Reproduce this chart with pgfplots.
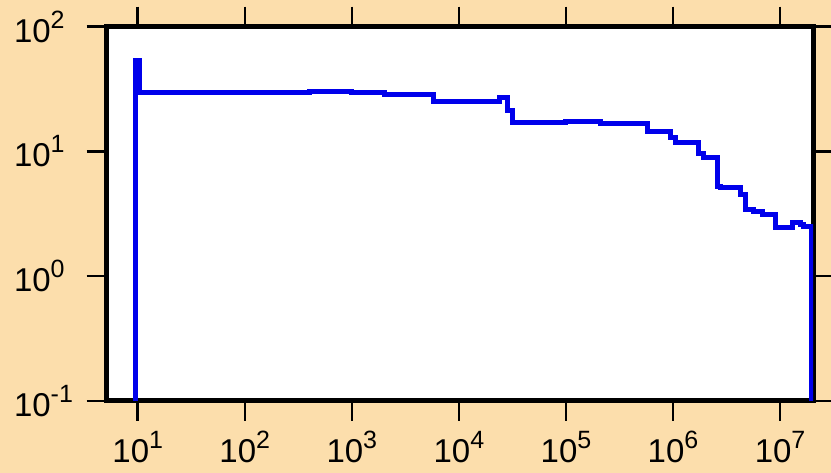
\documentclass[border=0pt]{standalone}
\usepackage{pgfplots}
\pgfplotsset{compat=1.18}
\usepackage{fontspec}
\setmainfont{Liberation Sans}
\definecolor{bg}{RGB}{252,222,172}
\definecolor{pl}{RGB}{0,0,235}
\newcommand{\tl}[1]{10\raisebox{14pt}{\fontsize{25}{26}\selectfont #1}}
\begin{document}
\begin{tikzpicture}[x=1pt,y=1pt]
\fill[bg] (0,0) rectangle (831,473);
\useasboundingbox (0,0) rectangle (831,473);
\begin{axis}[
  at={(106.5pt,72pt)}, anchor=south west,
  scale only axis, width=706.5pt, height=374.5pt,
  xmode=log, ymode=log,
  xmin=5.11, xmax=2.03e7, ymin=0.1, ymax=100,
  axis background/.style={fill=white},
  axis line style={line width=5pt, line cap=rect},
  tick align=outside, tick pos=both,
  major tick length=20pt,
  tick style={line width=2.5pt, black},
  xminorticks=false, yminorticks=false,
  xtick={10,100,1000,10000,100000,1000000,10000000},
  xticklabels={\tl{1},\tl{2},\tl{3},\tl{4},\tl{5},\tl{6},\tl{7}},
  ytick={0.1,1,10,100},
  yticklabels={\tl{-1},\tl{0},\tl{1},\tl{2}},
  ticklabel style={font=\fontsize{33}{38}\selectfont},
  xticklabel style={yshift=-7pt},
  yticklabel style={anchor=west, xshift=-76pt},
]
\addplot[const plot, color=pl, line width=5pt] coordinates {
(9.5,0.1)
(9.5,53.4)
(10.5,29.7)
(60,29.4)
(130,29.8)
(400,30.0)
(1000,29.8)
(2040,28.3)
(5740,25.0)
(15000,25.3)
(24200,26.8)
(28200,21.2)
(31400,17.1)
(100000,17.4)
(208000,16.6)
(573000,14.4)
(940000,12.9)
(1.05e6,11.7)
(1.72e6,9.53)
(1.91e6,8.85)
(2.58e6,5.2)
(2.75e6,5.1)
(4.24e6,4.5)
(4.71e6,3.45)
(5.6e6,3.3)
(6.8e6,3.1)
(9.0e6,2.46)
(1.30e7,2.67)
(1.54e7,2.57)
(1.64e7,2.49)
(1.95e7,2.49)
(1.95e7,0.1)
};
\end{axis}
\end{tikzpicture}
\end{document}
